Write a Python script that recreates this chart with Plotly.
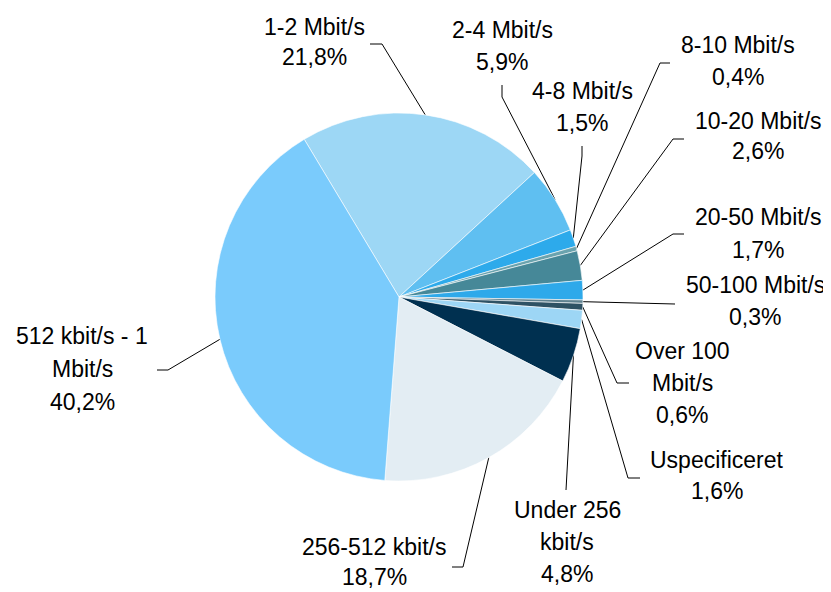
"""Pie of broadband connection speeds with outside labels and leader lines."""

import math

import plotly.graph_objects as go

W, H = 831, 592
OFF = 8  # the page body keeps a default 8px margin

categories = [
    "1-2 Mbit/s", "2-4 Mbit/s", "4-8 Mbit/s", "8-10 Mbit/s", "10-20 Mbit/s",
    "20-50 Mbit/s", "50-100 Mbit/s", "Over 100 Mbit/s", "Uspecificeret",
    "Under 256 kbit/s", "256-512 kbit/s", "512 kbit/s - 1 Mbit/s",
]
shares = [21.8, 5.9, 1.5, 0.4, 2.6, 1.7, 0.3, 0.6, 1.6, 4.8, 18.7, 40.2]
label_lines = [
    ["1-2 Mbit/s"], ["2-4 Mbit/s"], ["4-8 Mbit/s"], ["8-10 Mbit/s"],
    ["10-20 Mbit/s"], ["20-50 Mbit/s"], ["50-100 Mbit/s"], ["Over 100", "Mbit/s"],
    ["Uspecificeret"], ["Under 256", "kbit/s"], ["256-512 kbit/s"],
    ["512 kbit/s - 1", "Mbit/s"],
]

colors = [
    "#9DD7F5", "#5FBFF1", "#2DAAEB", "#6AA3AE", "#468898", "#2EA9EA",
    "#5F8290", "#2E5264", "#9DD6F5", "#003050", "#E3EDF3", "#7ACBFC",
]

# pie geometry (page pixels)
CX, CY, R = 399, 297, 184
ROTATION = -31

# label block: centre x, first line y, line gap; leader elbow and end points
label_pos = [
    (314, 27, 30), (502, 30, 32), (582, 91, 32), (738, 45, 32), (758, 121, 30),
    (758, 217, 33), (755, 285, 32), (682, 351, 32), (717, 460, 31),
    (567, 510, 32), (374, 547, 30), (82, 336, 33),
]
leader = [
    ((382, 44), (370, 44)), ((502, 97), (502, 85)), ((582, 156), (582, 146)),
    ((660, 63), (670, 63)), ((673, 139), (684, 139)), ((673, 234), (684, 234)),
    ((664, 304), (675, 304)), ((617, 383), (629, 383)), ((628, 478), (640, 478)),
    ((566, 480), (566, 490)), ((463, 567), (452, 567)), ((168, 370), (157, 370)),
]

FW, FH = W - OFF, H - OFF

fig = go.Figure()
fig.add_trace(
    go.Pie(
        labels=categories,
        values=shares,
        sort=False,
        direction="clockwise",
        rotation=ROTATION,
        textinfo="none",
        hoverinfo="label+percent",
        marker=dict(colors=colors, line=dict(color="white", width=0.6)),
        domain=dict(x=[(CX - R - OFF) / FW, (CX + R - OFF) / FW],
                    y=[(H - CY - R) / FH, (H - CY + R) / FH]),
        showlegend=False,
    )
)

total = sum(shares)
cum = 0.0
lx, ly = [], []
annotations = []
for i, v in enumerate(shares):
    mid = math.radians(ROTATION + (cum + v / 2) / total * 360)
    cum += v
    ex, ey = CX + R * math.sin(mid), CY - R * math.cos(mid)
    (bx, by), (tx, ty) = leader[i]
    lx += [ex, bx, tx, None]
    ly += [ey, by, ty, None]
    pct = f"{v:.1f}%".replace(".", ",")
    x0, y0, gap = label_pos[i]
    for k, line in enumerate(label_lines[i] + [pct]):
        annotations.append(dict(
            x=x0, y=y0 + k * gap, xref="x", yref="y", text=line,
            showarrow=False, xanchor="center", yanchor="middle",
            font=dict(family="Arial, Liberation Sans", size=23, color="black"),
        ))

fig.add_trace(
    go.Scatter(x=lx, y=ly, mode="lines", line=dict(color="black", width=1),
               hoverinfo="skip", showlegend=False)
)

fig.update_layout(
    width=FW,
    height=FH,
    autosize=False,
    margin=dict(l=0, r=0, t=0, b=0),
    paper_bgcolor="white",
    plot_bgcolor="rgba(0,0,0,0)",
    xaxis=dict(range=[OFF, W], visible=False, fixedrange=True),
    yaxis=dict(range=[H, OFF], visible=False, fixedrange=True),
    annotations=annotations,
)

fig.write_html("out.html", config=dict(displayModeBar=False))
